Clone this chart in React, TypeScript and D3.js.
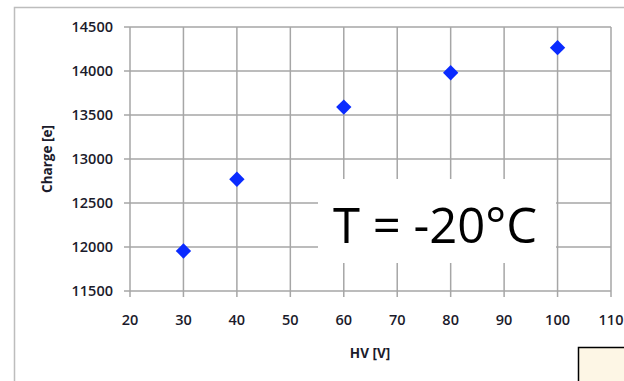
import React, { useEffect, useRef } from 'react';
import * as d3 from 'd3';

const hv = [30, 40, 60, 80, 100];
const charge = [11955, 12770, 13590, 13980, 14265];
const xTicks = [20, 30, 40, 50, 60, 70, 80, 90, 100, 110];
const yTicks = [11500, 12000, 12500, 13000, 13500, 14000, 14500];

const width = 624;
const height = 381;

const App: React.FC = () => {
  const ref = useRef<SVGSVGElement>(null);

  useEffect(() => {
    const svg = d3.select(ref.current).attr('width', width).attr('height', height);
    svg.selectAll('*').remove();

    const x = d3.scaleLinear().domain([20, 110]).range([130, 611]);
    const y = d3.scaleLinear().domain([11500, 14500]).range([291, 27]);
    const grid = '#a6a6a6';
    const font = '"Open Sans", sans-serif';

    svg.append('rect').attr('width', width).attr('height', height).attr('fill', '#fff');

    // outer chart frame
    svg
      .append('path')
      .attr('d', `M14.5,${height} V7.5 H${width}`)
      .attr('fill', 'none')
      .attr('stroke', '#bdbdbd')
      .attr('stroke-width', 1.5);

    // gridlines
    svg
      .append('g')
      .selectAll('line')
      .data(xTicks)
      .join('line')
      .attr('x1', (d) => x(d))
      .attr('x2', (d) => x(d))
      .attr('y1', y(14500))
      .attr('y2', y(11500) + 6)
      .attr('stroke', grid)
      .attr('stroke-width', 1.5);

    svg
      .append('g')
      .selectAll('line')
      .data(yTicks)
      .join('line')
      .attr('x1', x(20) - 6)
      .attr('x2', x(110))
      .attr('y1', (d) => y(d))
      .attr('y2', (d) => y(d))
      .attr('stroke', grid)
      .attr('stroke-width', 1.5);

    // tick labels
    svg
      .append('g')
      .attr('font-family', font)
      .attr('font-size', 14.5)
      .attr('font-weight', 600)
      .attr('fill', '#1b1b2b')
      .attr('text-anchor', 'end')
      .selectAll('text')
      .data(yTicks)
      .join('text')
      .attr('x', 113)
      .attr('y', (d) => y(d) + 5)
      .text((d) => String(d));

    svg
      .append('g')
      .attr('font-family', font)
      .attr('font-size', 14.5)
      .attr('font-weight', 600)
      .attr('fill', '#1b1b2b')
      .attr('text-anchor', 'middle')
      .selectAll('text')
      .data(xTicks)
      .join('text')
      .attr('x', (d) => x(d))
      .attr('y', 325)
      .text((d) => String(d));

    // axis titles
    svg
      .append('text')
      .attr('x', 370)
      .attr('y', 358)
      .attr('text-anchor', 'middle')
      .attr('font-family', font)
      .attr('font-size', 13.5)
      .attr('font-weight', 700)
      .attr('fill', '#1b1b2b')
      .text('HV [V]');

    svg
      .append('text')
      .attr('transform', `translate(52,159) rotate(-90)`)
      .attr('text-anchor', 'middle')
      .attr('font-family', font)
      .attr('font-size', 13.5)
      .attr('font-weight', 700)
      .attr('fill', '#1b1b2b')
      .text('Charge [e]');

    // points
    svg
      .append('g')
      .selectAll('path')
      .data(hv.map((h, i) => [h, charge[i]]))
      .join('path')
      .attr('d', d3.symbol(d3.symbolDiamond2, 150))
      .attr('transform', (d) => `translate(${x(d[0])},${y(d[1])})`)
      .attr('fill', '#0a2bff');

    // annotation box
    svg
      .append('rect')
      .attr('x', 318)
      .attr('y', 179)
      .attr('width', 238)
      .attr('height', 84)
      .attr('fill', '#fff');

    svg
      .append('text')
      .attr('x', 333)
      .attr('y', 243)
      .attr('font-family', font)
      .attr('font-size', 49)
      .attr('fill', '#000')
      .text('T = -20°C');

    // small box at bottom right
    svg
      .append('rect')
      .attr('x', 578.5)
      .attr('y', 347.5)
      .attr('width', 60)
      .attr('height', 50)
      .attr('fill', '#fdf6e5')
      .attr('stroke', '#000')
      .attr('stroke-width', 1.5);
  }, []);

  return <svg ref={ref} style={{ position: 'absolute', left: 0, top: 0 }}></svg>;
};

export default App;
